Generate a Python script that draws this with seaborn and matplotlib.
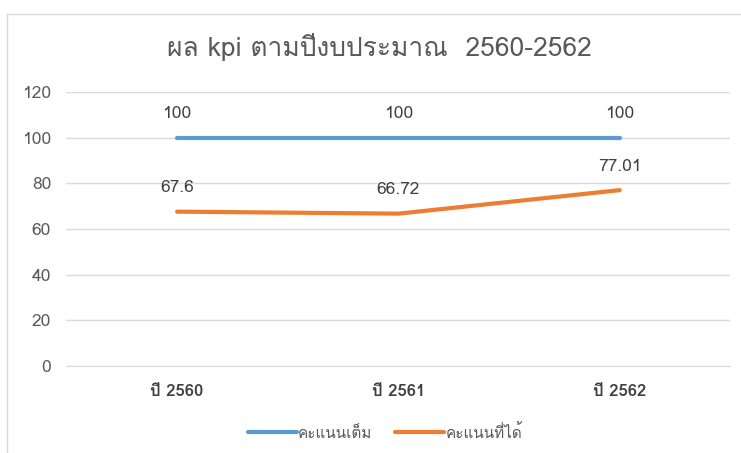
import matplotlib
matplotlib.use("Agg")
import matplotlib.pyplot as plt
from matplotlib import font_manager
from matplotlib.patches import Rectangle
import seaborn as sns
import pandas as pd

years = ["ปี 2560", "ปี 2561", "ปี 2562"]
full_score = [100, 100, 100]
got_score = [67.6, 66.72, 77.01]
series_names = ["คะแนนเต็ม", "คะแนนที่ได้"]
yticks = [0, 20, 40, 60, 80, 100, 120]

# find any installed font that has Thai glyphs
thai_font = None
for f in font_manager.fontManager.ttflist:
    if "thai" in f.name.lower() or "garuda" in f.name.lower() or "loma" in f.name.lower():
        thai_font = f.name
        break

sns.set_style("white")
fams = ([thai_font] if thai_font else []) + ["DejaVu Sans"]
plt.rcParams["font.family"] = fams

df = pd.DataFrame({
    "year": years * 2,
    "score": full_score + got_score,
    "series": [series_names[0]] * 3 + [series_names[1]] * 3,
})

fig = plt.figure(figsize=(7.41, 4.53), dpi=100)
ax = fig.add_axes([0.0897, 0.192, 0.896, 0.605])
sns.lineplot(data=df, x="year", y="score", hue="series", sort=False,
             palette=["#5B9BD5", "#ED7D31"], linewidth=3, ax=ax)

ax.set_xlim(-0.5, 2.5)
ax.set_ylim(0, 120)
ax.set_yticks(yticks)
ax.grid(axis="y", color="#D9D9D9", linewidth=1)
ax.set_axisbelow(True)
for s in ["top", "right", "left"]:
    ax.spines[s].set_visible(False)
ax.spines["bottom"].set_color("#D9D9D9")
ax.tick_params(axis="y", colors="#595959", labelsize=12.5, length=0, pad=11)
ax.tick_params(axis="x", colors="#404040", labelsize=12, length=0, pad=13)
for lbl in ax.get_xticklabels():
    lbl.set_fontweight("bold")
ax.set_xlabel("")
ax.set_ylabel("")

for i, v in enumerate(full_score):
    ax.annotate(f"{v:g}", (i, v), xytext=(0, 11), textcoords="offset points",
                ha="center", va="bottom", fontsize=12.5, color="#404040")
for i, v in enumerate(got_score):
    ax.annotate(f"{v:g}", (i, v), xytext=(0, 11), textcoords="offset points",
                ha="center", va="bottom", fontsize=12.5, color="#404040")

ax.set_title("ผล kpi ตามปีงบประมาณ  2560-2562", fontsize=19, color="#595959",
             pad=26, x=0.472)

ax.legend(loc="upper center", bbox_to_anchor=(0.48, -0.16), ncol=2, frameon=False,
          fontsize=11, handlelength=3.2, handletextpad=0.1, columnspacing=1.5,
          labelcolor="#595959")

fig.patches.append(Rectangle((0.0101, -0.01), 1.2, 0.98, transform=fig.transFigure,
                             fill=False, edgecolor="#D9D9D9", linewidth=1))

fig.savefig("out.png", dpi=100)
